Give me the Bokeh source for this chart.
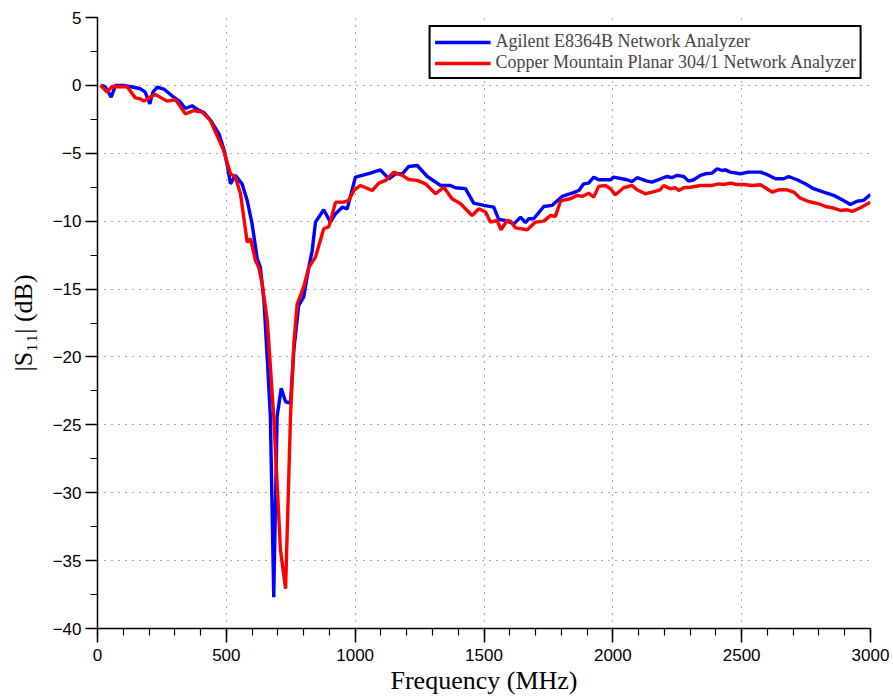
from bokeh.plotting import figure
from bokeh.models import Range1d, SingleIntervalTicker, Legend, LegendItem
from bokeh.embed import file_html
from bokeh.resources import INLINE

# Frequency (MHz) and |S11| (dB), Agilent E8364B
agilent_freq = [12, 30, 53, 70, 100, 130, 167, 185, 203, 215, 232, 260, 296, 320, 341, 367, 390, 413, 440, 471,
                490, 505, 516, 535, 561, 581, 600, 620, 632, 646, 660, 671, 684, 697, 713, 730, 749, 762, 781, 800,
                820, 833, 846, 878, 904, 924, 950, 969, 1001, 1027, 1059, 1098, 1131, 1157, 1183, 1208, 1241, 1280,
                1331, 1370, 1389, 1428, 1460, 1499, 1538, 1557, 1583, 1616, 1642, 1661, 1674, 1693, 1732, 1764,
                1803, 1842, 1868, 1887, 1906, 1926, 1945, 1991, 2003, 2055, 2075, 2094, 2133, 2152, 2197, 2210,
                2229, 2249, 2275, 2294, 2314, 2340, 2359, 2385, 2405, 2424, 2437, 2456, 2495, 2527, 2573, 2598,
                2631, 2663, 2682, 2715, 2747, 2779, 2818, 2857, 2890, 2922, 2948, 2973, 3000]
agilent_s11 = [0.0, -0.1, -0.87, 0.0, 0.0, -0.1, -0.25, -0.5, -1.36, -0.5, -0.13, -0.3, -0.87, -1.2, -1.7, -1.5,
               -1.8, -2.0, -2.6, -3.57, -4.67, -6.0, -7.25, -6.63, -7.25, -8.47, -10.2, -12.77, -13.4, -15.84,
               -20.5, -24.4, -37.7, -24.4, -22.3, -23.3, -23.4, -19.5, -16.2, -15.6, -13.4, -12.2, -10.07, -9.16,
               -10.07, -9.45, -8.97, -9.09, -6.76, -6.63, -6.46, -6.22, -6.88, -6.51, -6.51, -5.97, -5.9, -6.71,
               -7.37, -7.37, -7.54, -7.6, -8.67, -8.84, -8.97, -9.87, -9.95, -10.2, -9.7, -10.1, -9.82, -9.82,
               -8.92, -8.84, -8.18, -7.94, -7.74, -7.25, -7.2, -6.76, -6.95, -6.95, -6.76, -6.95, -7.08, -6.8,
               -7.05, -7.13, -6.8, -6.71, -6.8, -6.63, -6.71, -7.05, -6.95, -6.63, -6.51, -6.46, -6.14, -6.27,
               -6.22, -6.39, -6.51, -6.39, -6.39, -6.56, -6.88, -6.88, -6.71, -6.95, -7.25, -7.61, -7.86, -8.1,
               -8.42, -8.77, -8.53, -8.47, -8.03]

# Copper Mountain Planar 304/1
copper_freq = [12, 37, 57, 115, 147, 167, 180, 199, 225, 270, 303, 341, 374, 406, 438, 464, 490, 516, 535, 555,
               581, 594, 613, 626, 639, 659, 684, 710, 730, 749, 762, 775, 800, 820, 846, 878, 898, 924, 956, 975,
               995, 1021, 1066, 1092, 1118, 1150, 1183, 1208, 1241, 1273, 1312, 1344, 1376, 1409, 1454, 1480, 1506,
               1525, 1551, 1566, 1590, 1603, 1622, 1668, 1700, 1732, 1758, 1777, 1797, 1816, 1835, 1861, 1881,
               1906, 1926, 1945, 1971, 1991, 2010, 2042, 2075, 2094, 2126, 2152, 2184, 2197, 2223, 2243, 2256,
               2275, 2301, 2340, 2385, 2411, 2430, 2456, 2482, 2508, 2540, 2573, 2592, 2618, 2644, 2676, 2702,
               2728, 2760, 2799, 2825, 2851, 2883, 2909, 2929, 2961, 3000]
copper_s11 = [0.0, -0.5, -0.08, -0.1, -0.92, -1.0, -1.16, -0.92, -0.67, -1.16, -1.06, -2.1, -1.85, -1.97, -2.58,
              -3.7, -4.8, -6.5, -6.76, -7.98, -11.55, -11.3, -12.9, -13.4, -14.6, -17.3, -24.4, -34.2, -37.07,
              -24.4, -19.0, -16.1, -14.86, -13.4, -12.65, -10.56, -10.4, -8.6, -8.6, -8.47, -7.74, -7.37, -7.74,
              -7.2, -7.0, -6.39, -6.63, -6.93, -7.0, -7.25, -7.98, -7.5, -8.35, -8.72, -9.58, -9.09, -9.33, -10.07,
              -9.95, -10.63, -9.95, -10.0, -10.49, -10.63, -10.07, -10.0, -9.58, -9.65, -8.53, -8.42, -8.35, -8.1,
              -8.18, -7.94, -8.23, -7.44, -7.37, -7.61, -8.06, -7.54, -7.37, -7.69, -7.98, -7.86, -7.69, -7.37,
              -7.61, -7.54, -7.74, -7.54, -7.5, -7.37, -7.37, -7.25, -7.3, -7.2, -7.3, -7.3, -7.37, -7.32, -7.54,
              -7.86, -7.69, -7.69, -7.86, -8.31, -8.55, -8.72, -8.92, -9.01, -9.21, -9.16, -9.28, -9.01, -8.6]

series_names = ["Agilent E8364B Network Analyzer", "Copper Mountain Planar 304/1 Network Analyzer"]
y_ticks = [5, 0, -5, -10, -15, -20, -25, -30, -35, -40]

p = figure(width=893, height=698, output_backend="svg", toolbar_location=None,
           x_range=Range1d(0, 3000), y_range=Range1d(-40, 5),
           min_border_left=97, min_border_right=23, min_border_top=17, min_border_bottom=70)
p.outline_line_color = None
p.background_fill_color = "white"
p.border_fill_color = "white"

l1 = p.line(agilent_freq, agilent_s11, line_color="#0000ff", line_width=3.4)
l2 = p.line(copper_freq, copper_s11, line_color="#ff0000", line_width=3.4)

p.xaxis.ticker = SingleIntervalTicker(interval=500, num_minor_ticks=5)
p.yaxis.ticker = SingleIntervalTicker(interval=5, num_minor_ticks=2)
p.yaxis.major_label_overrides = {v: (("\u2212" + str(-v)) if v < 0 else str(v)) for v in y_ticks}

for ax in (p.xaxis[0], p.yaxis[0]):
    ax.axis_line_color = "black"
    ax.axis_line_width = 1.5
    ax.major_tick_line_color = "black"
    ax.major_tick_line_width = 1.5
    ax.minor_tick_line_color = "black"
    ax.minor_tick_line_width = 1.2
    ax.major_tick_in = 0
    ax.minor_tick_in = 0
    ax.major_label_text_font = "Liberation Sans"
    ax.major_label_text_font_size = "17px"
    ax.major_label_text_color = "black"
    ax.axis_label_text_font = "Liberation Serif"
    ax.axis_label_text_font_size = "26px"
    ax.axis_label_text_font_style = "normal"
    ax.axis_label_text_color = "black"

p.xaxis.major_tick_out = 14
p.xaxis.minor_tick_out = 7
p.xaxis.major_label_standoff = 6
p.xaxis.axis_label_standoff = 2
p.yaxis.major_tick_out = 12
p.yaxis.minor_tick_out = 7
p.yaxis.major_label_standoff = 4
p.yaxis.axis_label_standoff = 12

p.xaxis.axis_label = "Frequency (MHz)"
p.yaxis.axis_label = "|S\u2081\u2081| (dB)"

p.grid.grid_line_color = "#555555"
p.grid.grid_line_dash = "1 6"
p.grid.grid_line_width = 1

legend = Legend(items=[LegendItem(label=series_names[0], renderers=[l1]),
                       LegendItem(label=series_names[1], renderers=[l2])],
                location="top_right", margin=8, padding=4, spacing=0,
                label_text_font="Liberation Serif", label_text_font_size="18px",
                label_height=16, glyph_height=16, glyph_width=56, label_standoff=5,
                label_text_line_height=1.0,
                border_line_color="black", border_line_alpha=1.0, border_line_width=2.2,
                background_fill_alpha=1)
p.add_layout(legend)

open("out.html", "w").write(file_html(p, INLINE))
